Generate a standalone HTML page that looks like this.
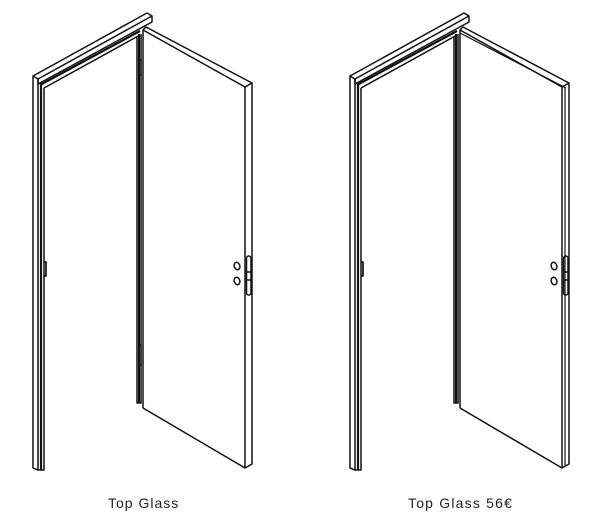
<!DOCTYPE html>
<html><head><meta charset="utf-8"><style>
html,body{margin:0;padding:0;background:#fff;width:600px;height:531px;overflow:hidden}
text{font-family:"Liberation Sans",sans-serif;font-size:14px;fill:#222;letter-spacing:1px}
</style></head><body>
<svg width="600" height="531" viewBox="0 0 600 531" xmlns="http://www.w3.org/2000/svg">
<defs>
<g id="door" fill="none" stroke="#111" stroke-width="1.5" stroke-linejoin="round">
  <path d="M33,76 L147,13 L152,16 L38,79 Z"/>
  <path d="M38,79 L38,84 L152,22 L152,16"/>
  <path d="M40,85 L140,31" stroke-width="2.2"/>
  <path d="M44,88 L140,35"/>
  <path d="M33,76 L33,468 L38,470 L38,79"/>
  <path d="M41,84 L41,470" stroke-width="2.2"/>
  <path d="M44,88 L44,470 L38,470"/>
  <path d="M44,262 L46,262 L46,276 L44,276" stroke-width="1.7"/>
  <path d="M137,36 L137,403 L141,403 L141,34" stroke-width="1.5"/>
  <path d="M139,34 L139,403" stroke-width="2"/>
  <path d="M143,30 L143,408"/>
  <path d="M143,30 L146,27 L252,83 L245,87 Z"/>
  <path d="M245,87 L245,468 L252,464 L252,83"/>
  <path d="M143,408 L245,468"/>
  <rect x="246.5" y="256" width="4.5" height="39" rx="2.2"/>
  <path d="M246.5,272 L251,272 M246.5,280 L251,280"/>
  <ellipse cx="237" cy="266" rx="2.8" ry="3.8" transform="rotate(-20 237 266)"/>
  <ellipse cx="237" cy="281" rx="2.8" ry="3.8" transform="rotate(-20 237 281)"/>
</g>
</defs>
<use href="#door"/>
<g fill="none" stroke="#111" stroke-width="1.2">
  <path d="M139,60 L141,60 L141,75 L139,75"/>
  <path d="M139,345 L141,345 L141,365 L139,365"/>
</g>
<g transform="translate(317,0)">
  <use href="#door"/>
  <path d="M248,87 L248,466" fill="none" stroke="#111" stroke-width="1.2"/>
  <path d="M143,33 L249,88" fill="none" stroke="#111" stroke-width="1.2"/>
</g>
<text x="108" y="508">Top Glass</text>
<text x="408" y="508" style="letter-spacing:1.2px">Top Glass 56€</text>
</svg>
</body></html>
